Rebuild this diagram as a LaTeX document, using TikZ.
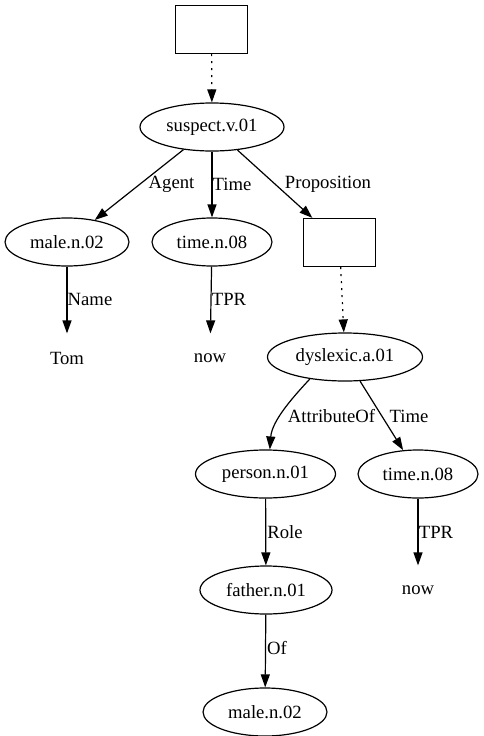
\documentclass[tikz,border=0pt]{standalone}
\usepackage{fontspec}
\setmainfont{Liberation Serif}
\usetikzlibrary{arrows.meta,shapes.geometric}
\begin{document}
\begin{tikzpicture}[x=1pt,y=-1pt,line width=1.2pt,
  ell/.style={ellipse, draw, minimum height=48pt, inner sep=0pt, font=\fontsize{18.67}{22}\selectfont},
  boxnode/.style={rectangle, draw, minimum width=72pt, minimum height=48pt, inner sep=0pt},
  txt/.style={inner sep=0pt, minimum height=48pt, font=\fontsize{18.67}{22}\selectfont},
  lbl/.style={inner sep=0pt, font=\fontsize{18.67}{22}\selectfont},
  edge/.style={-{Triangle[length=13pt,width=9pt]}},
  dotedge/.style={edge, dash pattern=on 2pt off 5pt}]
\useasboundingbox (0,0) rectangle (484,736);
% nodes
\node[boxnode] (b1) at (211.5,29.5) {};
\node[ell, minimum width=144pt] (s) at (212,127) {suspect.v.01};
\node[ell, minimum width=124pt] (m) at (67,242) {male.n.02};
\node[ell, minimum width=120pt] (t) at (212,242) {time.n.08};
\node[boxnode] (b2) at (339.5,242.5) {};
\node[txt] (tom) at (67,358) {Tom};
\node[txt] (now) at (210,358) {now};
\node[ell, minimum width=155pt] (d) at (345,357) {dyslexic.a.01};
\node[ell, minimum width=140pt] (p) at (265.5,474) {person.n.01};
\node[ell, minimum width=120pt] (t2) at (418,474) {time.n.08};
\node[ell, minimum width=132pt] (f) at (266,590) {father.n.01};
\node[txt] (now2) at (418,590) {now};
\node[ell, minimum width=124pt] (m2) at (265,712) {male.n.02};
% edges
\draw[dotedge] (b1) -- (s);
\draw[edge] (s) -- (m) node[lbl, at={(171.5,184)}] {Agent};
\draw[edge] (s) -- (t) node[lbl, at={(232,184)}] {Time};
\draw[edge] (s) -- (b2) node[lbl, at={(328,184)}] {Proposition};
\draw[edge] (m) -- (tom) node[lbl, at={(90,299)}] {Name};
\draw[edge] (t) -- (now) node[lbl, at={(229,299)}] {TPR};
\draw[dotedge] (b2) -- (d);
\draw[edge] (d.212) .. controls (295,395) and (272,420) .. (p.80) node[lbl, at={(331.5,416)}] {AttributeOf};
\draw[edge] (d) -- (t2) node[lbl, at={(409,416)}] {Time};
\draw[edge] (p) -- (f) node[lbl, at={(285,532)}] {Role};
\draw[edge] (t2) -- (now2) node[lbl, at={(436,532)}] {TPR};
\draw[edge] (f) -- (m2) node[lbl, at={(277,648)}] {Of};
\end{tikzpicture}
\end{document}
